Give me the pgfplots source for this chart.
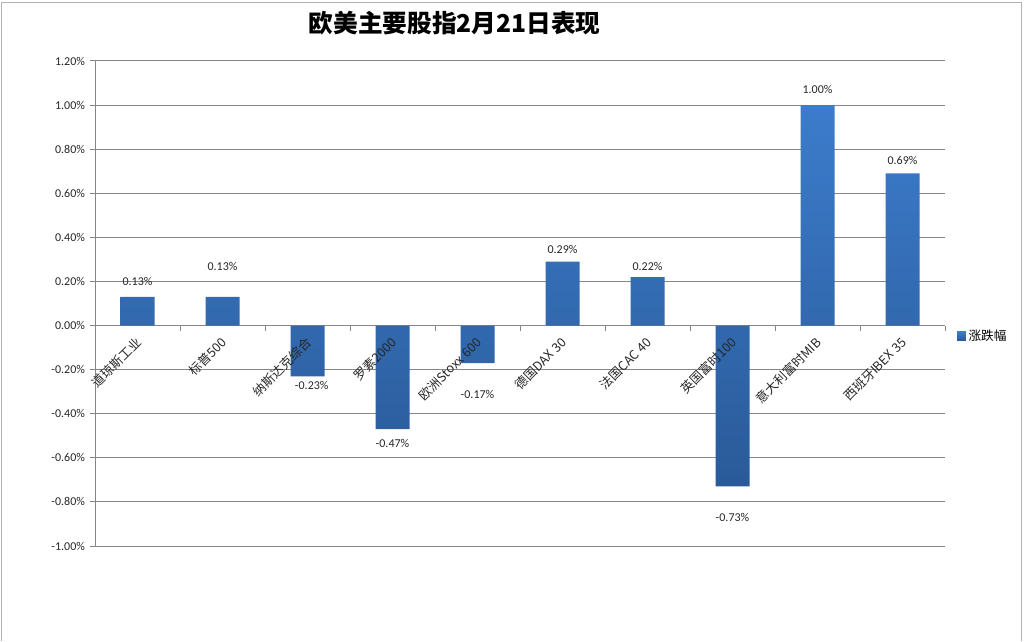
\documentclass[border=0pt]{standalone}
\usepackage{pgfplots}
\pgfplotsset{compat=1.18}
\usepackage{fontspec}
\setmainfont{Carlito}
\newfontfamily\cjk{Noto Sans CJK SC}
\definecolor{gridgray}{RGB}{134,134,134}
\definecolor{barTop}{RGB}{60,124,204}
\definecolor{barBot}{RGB}{42,90,152}
\definecolor{legblue}{RGB}{56,108,186}
\begin{document}
\begin{tikzpicture}
\path (0,0) rectangle (768pt,480.75pt);
\draw[gray!60, line width=0.75pt] (1.2pt,0) -- (1.2pt,479.2pt) -- (766.2pt,479.2pt) -- (766.2pt,0);
\node[font=\cjk\bfseries\fontsize{18.5}{22}\selectfont] at (341pt,463.5pt) {欧美主要股指2月21日表现};
\begin{axis}[
  at={(71.25pt,71.25pt)}, anchor=south west,
  scale only axis, width=637.5pt, height=363.75pt,
  xmin=-0.5, xmax=9.5, ymin=-1, ymax=1.2,
  axis x line*=middle, axis y line*=left,
  axis line style={gridgray, line width=0.75pt},
  ymajorgrids, grid style={gridgray, line width=0.75pt},
  ytick={-1,-0.8,-0.6,-0.4,-0.2,0,0.2,0.4,0.6,0.8,1.0,1.2},
  yticklabel={\pgfmathprintnumber[fixed,fixed zerofill,precision=2]{\tick}\%},
  /pgf/number format/assume math mode=true,
  yticklabel style={font=\fontsize{9}{10}\selectfont, color=black!85},
  xtick={0,...,9},
  xticklabels={},
  major x tick style={draw=none},
  minor xtick={0.5,1.5,2.5,3.5,4.5,5.5,6.5,7.5,8.5,9.5},
  minor x tick style={gridgray, line width=0.75pt},
  minor tick length=4pt,
  major tick length=4pt,
  tick align=outside,
  ytick style={gridgray, line width=0.75pt},
  legend style={at={(1.014,0.433)}, anchor=west, draw=none, fill=none, font=\cjk\fontsize{9.5}{11}\selectfont, inner sep=0pt},
  legend image code/.code={\fill[legblue] (0pt,-3.2pt) rectangle (6.5pt,3.2pt);},
  clip=false,
]
\addplot[ybar, bar width=25.5pt, draw=none, top color=barTop, bottom color=barBot]
  coordinates {(0,0.13) (1,0.13) (2,-0.23) (3,-0.47) (4,-0.17) (5,0.29) (6,0.22) (7,-0.73) (8,1.00) (9,0.69)};
\addlegendentry{涨跌幅}
% data labels
\addplot[draw=none, mark=none, forget plot, nodes near coords, point meta=explicit symbolic,
  every node near coord/.append style={anchor=center, font=\fontsize{9}{10}\selectfont, color=black!85}]
  coordinates {(0,0.200) [0.13\%] (1,0.267) [0.13\%] (2.05,-0.272) [-0.23\%] (3,-0.535) [-0.47\%]
   (4,-0.313) [-0.17\%] (5,0.345) [0.29\%] (6,0.267) [0.22\%] (7,-0.871) [-0.73\%]
   (8,1.070) [1.00\%] (9,0.748) [0.69\%]};
% category labels (drawn over the bars)
\addplot[draw=none, mark=none, forget plot, nodes near coords, point meta=explicit symbolic,
  every node near coord/.append style={font=\cjk\fontsize{9.5}{11}\selectfont, color=black!85, xshift=1pt, yshift=-11pt, rotate=45, anchor=east, inner sep=0pt}]
  coordinates {(0,0) [道琼斯工业] (1,0) [标普500] (2,0) [纳斯达克综合] (3,0) [罗素2000]
   (4,0) [欧洲Stoxx 600] (5,0) [德国DAX 30] (6,0) [法国CAC 40] (7,0) [英国富时100]
   (8,0) [意大利富时MIB] (9,0) [西班牙IBEX 35]};
\end{axis}
\end{tikzpicture}
\end{document}
